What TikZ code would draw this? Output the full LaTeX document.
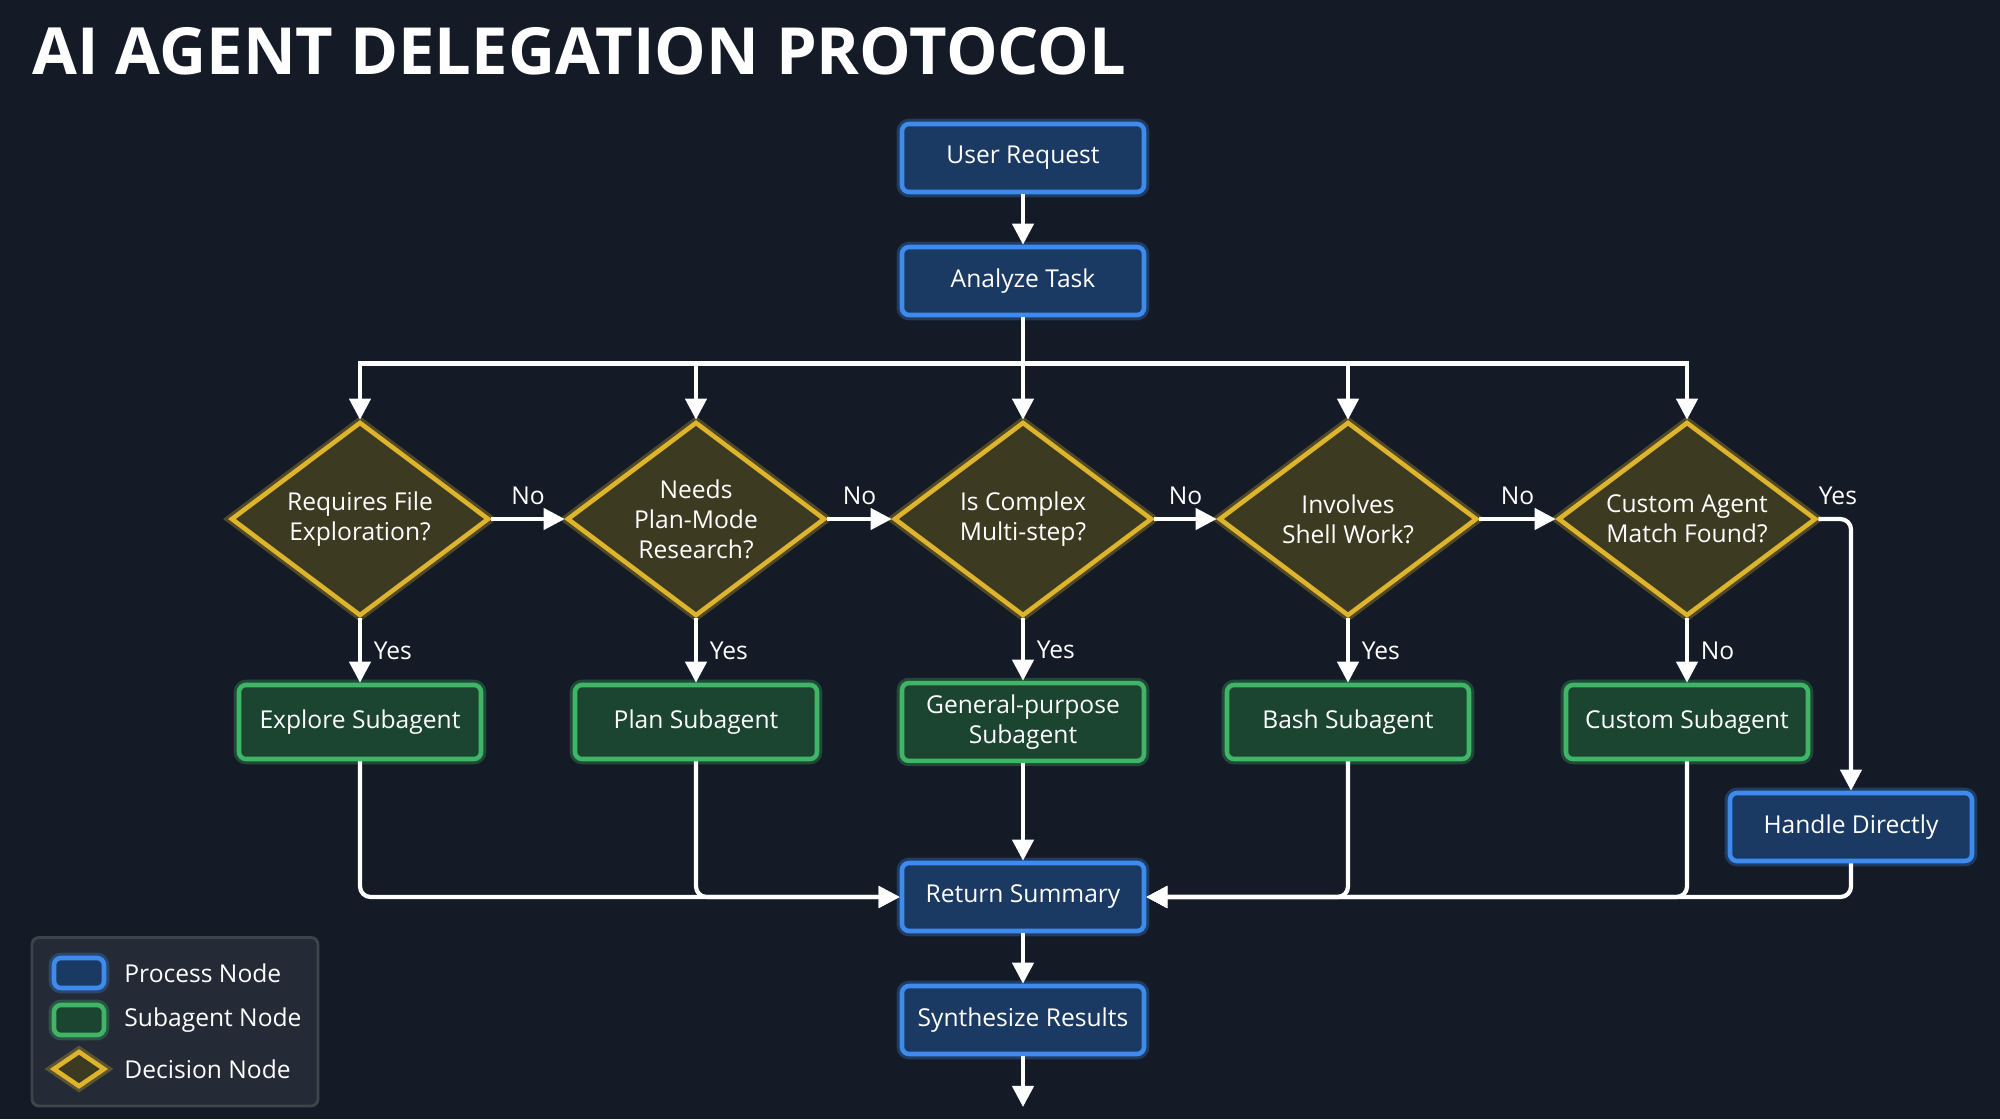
\documentclass[tikz,border=0pt]{standalone}
\usepackage{fontspec}
\setmainfont{Open Sans}
\usetikzlibrary{arrows.meta,positioning,shapes.geometric}

\definecolor{bgcol}{HTML}{141B27}
\definecolor{procfill}{HTML}{1B3A63}
\definecolor{procline}{HTML}{3E8BF0}
\definecolor{subfill}{HTML}{1B4530}
\definecolor{subline}{HTML}{3FB566}
\definecolor{decfill}{HTML}{3D3A22}
\definecolor{decline}{HTML}{DDB42C}

\tikzset{
  proc/.style={draw=procline, fill=procfill, line width=1.3pt, rounded corners=2pt,
    minimum width=2.42cm, minimum height=0.68cm, text=white, font=\fontsize{7pt}{8pt}\selectfont,
    preaction={draw=procline, draw opacity=0.3, line width=3pt}},
  sub/.style={draw=subline, fill=subfill, line width=1.3pt, rounded corners=2pt,
    minimum width=2.42cm, minimum height=0.74cm, text=white, align=center,
    font=\fontsize{7pt}{8.5pt}\selectfont,
    preaction={draw=subline, draw opacity=0.3, line width=3pt}},
  dec/.style={diamond, draw=decline, fill=decfill, line width=1.3pt, aspect=1.33,
    minimum width=2.58cm, minimum height=1.94cm, inner sep=0pt, text=white, align=center,
    font=\fontsize{7pt}{8.5pt}\selectfont,
    preaction={draw=decline, draw opacity=0.3, line width=3pt}},
  arr/.style={draw=white, line width=1.2pt, -{Triangle[length=6pt,width=6pt]}},
  lin/.style={draw=white, line width=1.2pt},
  lbl/.style={text=white, font=\fontsize{7pt}{8pt}\selectfont},
}

\begin{document}
\begin{tikzpicture}
\fill[bgcol] (0,0) rectangle (20,11.19);
\useasboundingbox (0,0) rectangle (20,11.19);

% title
\node[anchor=west, inner sep=0pt, text=white, font=\fontsize{18.5pt}{20pt}\selectfont\bfseries] (title) at (0.32,10.68) {AI AGENT DELEGATION PROTOCOL};

% process nodes
\node[proc] (user) at (10.23,9.61) {User Request};
\node[proc] (task) at (10.23,8.38) {Analyze Task};
\coordinate (split) at (10.23,7.555);

% decisions
\node[dec] (dfile)   at (3.60,6.0)  {Requires File\\Exploration?};
\node[dec] (dplan)   at (6.96,6.0)  {Needs\\Plan-Mode\\Research?};
\node[dec] (dmulti)  at (10.23,6.0) {Is Complex\\Multi-step?};
\node[dec] (dshell)  at (13.48,6.0) {Involves\\Shell Work?};
\node[dec] (dcustom) at (16.87,6.0) {Custom Agent\\Match Found?};

% subagents
\node[sub] (sexplore) at (3.60,3.97)  {Explore Subagent};
\node[sub] (splan)    at (6.96,3.97)  {Plan Subagent};
\node[sub] (sgeneral) at (10.23,3.97) {General-purpose\\Subagent};
\node[sub] (sbash)    at (13.48,3.97) {Bash Subagent};
\node[sub] (scustom)  at (16.87,3.97) {Custom Subagent};

\node[proc] (direct)    at (18.51,2.92) {Handle Directly};
\node[proc] (summary)   at (10.23,2.22) {Return Summary};
\node[proc] (synth)     at (10.23,0.99) {Synthesize Results};
\coordinate (out) at (10.23,0.12);

% top flow
\draw[arr] (user) -- (task);
\draw[lin] (task) -- (split);
\foreach \d in {dfile,dplan,dmulti,dshell,dcustom}
  \draw[arr] (split) -| (\d.north);

% no chain
\draw[arr] (dfile.east) -- node[lbl, above] {No} (dplan.west);
\draw[arr] (dplan.east) -- node[lbl, above] {No} (dmulti.west);
\draw[arr] (dmulti.east) -- node[lbl, above] {No} (dshell.west);
\draw[arr] (dshell.east) -- node[lbl, above] {No} (dcustom.west);

% yes branches
\draw[arr] (dfile.south) -- node[lbl, right] {Yes} (sexplore);
\draw[arr] (dplan.south) -- node[lbl, right] {Yes} (splan);
\draw[arr] (dmulti.south) -- node[lbl, right] {Yes} (sgeneral);
\draw[arr] (dshell.south) -- node[lbl, right] {Yes} (sbash);
\draw[arr] (dcustom.south) -- node[lbl, right] {No} (scustom);
\draw[arr, rounded corners=3pt] (dcustom.east) -- node[lbl, above, pos=0.6] {Yes} (dcustom.east -| direct) -- (direct.north);

% merge
\draw[arr, rounded corners=3pt] (sexplore.south) |- (summary.west);
\draw[arr, rounded corners=3pt] (splan.south) |- (summary.west);
\draw[arr] (sgeneral) -- (summary);
\draw[arr, rounded corners=3pt] (direct.south) |- (summary.east);
\draw[arr, rounded corners=3pt] (sbash.south) |- (summary.east);
\draw[arr, rounded corners=3pt] (scustom.south) |- (summary.east);
\draw[arr] (summary) -- (synth);
\draw[arr] (synth) -- (out);

% legend
\draw[draw=gray!40!bgcol, fill=bgcol!93!white, rounded corners=2pt, line width=0.8pt] (0.32,0.13) rectangle (3.18,1.815);
\node[proc, minimum width=0.5cm, minimum height=0.3cm, preaction={}] (kproc) at (0.79,1.46) {};
\node[sub, minimum width=0.5cm, minimum height=0.3cm, preaction={}] (ksub) at (0.79,0.99) {};
\node[dec, minimum width=0.52cm, minimum height=0.36cm, preaction={}] (kdec) at (0.79,0.50) {};
\node[lbl, anchor=west] (tproc) at (1.12,1.46) {Process Node};
\node[lbl, anchor=west] (tsub)  at (1.12,0.99) {Subagent Node};
\node[lbl, anchor=west] (tdec)  at (1.12,0.50) {Decision Node};
\end{tikzpicture}
\end{document}
